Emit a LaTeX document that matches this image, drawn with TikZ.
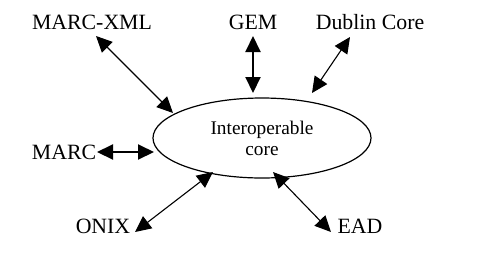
\documentclass[tikz,border=0pt]{standalone}
\usepackage{fontspec}
\setmainfont{Liberation Serif}
\usetikzlibrary{arrows.meta,shapes.geometric}
\begin{document}
\begin{tikzpicture}[x=1pt,y=-1pt,
  lbl/.style={inner sep=0pt,font=\fontsize{21.8}{24}\selectfont},
  corebox/.style={ellipse,draw,line width=1.2pt,minimum width=218pt,minimum height=80pt,
    inner sep=0pt,align=center,font=\fontsize{19.3}{22}\selectfont},
  link/.style={line width=1.1pt,{Triangle[length=16pt,width=15pt]}-{Triangle[length=16pt,width=15pt]}},
  boldlink/.style={link,line width=2pt}]
\useasboundingbox (0,0) rectangle (493,266);
% central ellipse
\node[corebox] (core) at (262,138) {Interoperable\\[-1pt]core};
% surrounding formats
\node[lbl] (mxml) at (92,22) {MARC-XML};
\node[lbl] (gem) at (253,22) {GEM};
\node[lbl] (dc) at (370,22) {Dublin Core};
\node[lbl] (marc) at (64,152) {MARC};
\node[lbl] (onix) at (103,226) {ONIX};
\node[lbl] (ead) at (360,226) {EAD};
% arrow end points
\coordinate (mxmlA) at (96,36);  \coordinate (mxmlB) at (173,113);
\coordinate (gemA) at (253,36);  \coordinate (gemB) at (253,93);
\coordinate (dcA) at (350,37);   \coordinate (dcB) at (312,93);
\coordinate (marcA) at (97,152); \coordinate (marcB) at (154,152);
\coordinate (onixA) at (135,232);\coordinate (onixB) at (213,172);
\coordinate (eadA) at (331,232); \coordinate (eadB) at (273,172);
% connectors
\draw[link] (mxmlA) -- (mxmlB);
\draw[boldlink] (gemA) -- (gemB);
\draw[link] (dcA) -- (dcB);
\draw[boldlink] (marcA) -- (marcB);
\draw[link] (onixA) -- (onixB);
\draw[link] (eadA) -- (eadB);
\end{tikzpicture}
\end{document}
